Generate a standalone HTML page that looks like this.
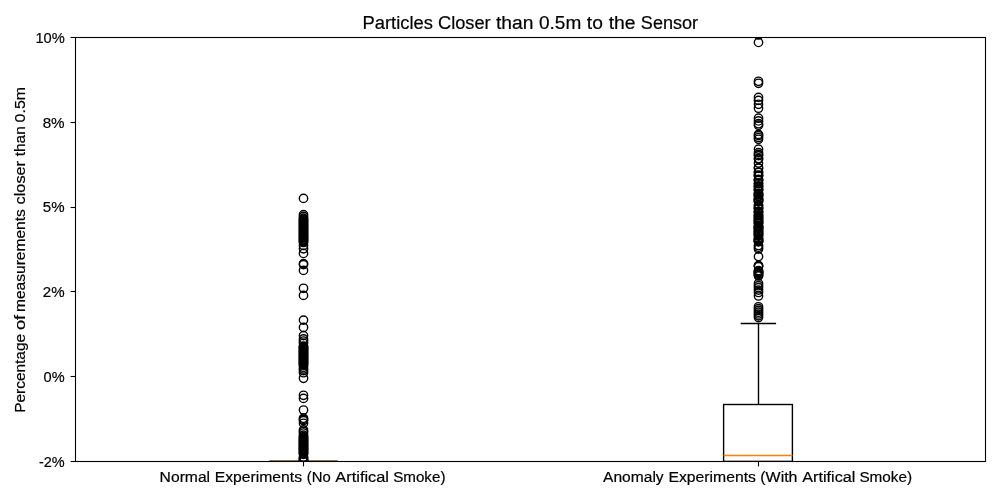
<!DOCTYPE html>
<html><head><meta charset="utf-8"><title>Particles Closer than 0.5m to the Sensor</title>
<style>
html,body{margin:0;padding:0;background:#fff;}
body{width:1000px;height:500px;overflow:hidden;position:relative;font-family:"Liberation Sans",sans-serif;}
svg{position:absolute;left:0;top:0;display:block;}
text{font-family:"Liberation Sans",sans-serif;fill:#000;stroke:#000;stroke-width:0.2px;stroke-linejoin:round;}
</style></head><body>
<svg width="1000" height="500" viewBox="0 0 1000 500">
<defs><clipPath id="ax"><rect x="75.6" y="37.4" width="909.8" height="424"/></clipPath></defs>
<rect x="0" y="0" width="1000" height="500" fill="#fff"/>
<g clip-path="url(#ax)" fill="none" stroke="#000" stroke-width="1.39">
<!-- box 1 (collapsed) -->
<line x1="269.4" x2="337.6" y1="461.2" y2="461.2"/>
<line x1="269.4" x2="337.6" y1="460.55" y2="460.55" stroke="#b0703f" stroke-width="0.9" opacity="0.55"/>
<!-- box 2 -->
<rect x="723.6" y="404.5" width="68.8" height="56.9"/>
<line x1="758.5" x2="758.5" y1="404.5" y2="323.5"/>
<line x1="740.7" x2="776.1" y1="323.5" y2="323.5"/>
<line x1="723.6" x2="792.4" y1="455.5" y2="455.5" stroke="#ff7f0e"/>
<!-- fliers -->
<circle cx="303.5" cy="198.4" r="4.17"/>
<circle cx="303.5" cy="214.6" r="4.17"/>
<circle cx="303.5" cy="216.4" r="4.17"/>
<circle cx="303.5" cy="218.2" r="4.17"/>
<circle cx="303.5" cy="219.1" r="4.17"/>
<circle cx="303.5" cy="220.0" r="4.17"/>
<circle cx="303.5" cy="220.9" r="4.17"/>
<circle cx="303.5" cy="221.8" r="4.17"/>
<circle cx="303.5" cy="222.7" r="4.17"/>
<circle cx="303.5" cy="223.6" r="4.17"/>
<circle cx="303.5" cy="224.5" r="4.17"/>
<circle cx="303.5" cy="225.4" r="4.17"/>
<circle cx="303.5" cy="226.3" r="4.17"/>
<circle cx="303.5" cy="227.2" r="4.17"/>
<circle cx="303.5" cy="228.1" r="4.17"/>
<circle cx="303.5" cy="229.0" r="4.17"/>
<circle cx="303.5" cy="229.9" r="4.17"/>
<circle cx="303.5" cy="230.8" r="4.17"/>
<circle cx="303.5" cy="231.7" r="4.17"/>
<circle cx="303.5" cy="232.6" r="4.17"/>
<circle cx="303.5" cy="233.5" r="4.17"/>
<circle cx="303.5" cy="234.4" r="4.17"/>
<circle cx="303.5" cy="235.3" r="4.17"/>
<circle cx="303.5" cy="236.2" r="4.17"/>
<circle cx="303.5" cy="237.1" r="4.17"/>
<circle cx="303.5" cy="238.0" r="4.17"/>
<circle cx="303.5" cy="238.9" r="4.17"/>
<circle cx="303.5" cy="239.8" r="4.17"/>
<circle cx="303.5" cy="240.7" r="4.17"/>
<circle cx="303.5" cy="241.6" r="4.17"/>
<circle cx="303.5" cy="242.5" r="4.17"/>
<circle cx="303.5" cy="245.4" r="4.17"/>
<circle cx="303.5" cy="248.8" r="4.17"/>
<circle cx="303.5" cy="253.4" r="4.17"/>
<circle cx="303.5" cy="263.6" r="4.17"/>
<circle cx="303.5" cy="264.6" r="4.17"/>
<circle cx="303.5" cy="270.4" r="4.17"/>
<circle cx="303.5" cy="288.3" r="4.17"/>
<circle cx="303.5" cy="295.4" r="4.17"/>
<circle cx="303.5" cy="320.1" r="4.17"/>
<circle cx="303.5" cy="327.4" r="4.17"/>
<circle cx="303.5" cy="335.6" r="4.17"/>
<circle cx="303.5" cy="338.9" r="4.17"/>
<circle cx="303.5" cy="341.0" r="4.17"/>
<circle cx="303.5" cy="343.1" r="4.17"/>
<circle cx="303.5" cy="346.1" r="4.17"/>
<circle cx="303.5" cy="346.8" r="4.17"/>
<circle cx="303.5" cy="347.6" r="4.17"/>
<circle cx="303.5" cy="348.4" r="4.17"/>
<circle cx="303.5" cy="349.2" r="4.17"/>
<circle cx="303.5" cy="350.0" r="4.17"/>
<circle cx="303.5" cy="350.8" r="4.17"/>
<circle cx="303.5" cy="351.6" r="4.17"/>
<circle cx="303.5" cy="352.4" r="4.17"/>
<circle cx="303.5" cy="353.2" r="4.17"/>
<circle cx="303.5" cy="354.0" r="4.17"/>
<circle cx="303.5" cy="354.8" r="4.17"/>
<circle cx="303.5" cy="355.6" r="4.17"/>
<circle cx="303.5" cy="356.4" r="4.17"/>
<circle cx="303.5" cy="357.2" r="4.17"/>
<circle cx="303.5" cy="358.0" r="4.17"/>
<circle cx="303.5" cy="358.8" r="4.17"/>
<circle cx="303.5" cy="359.6" r="4.17"/>
<circle cx="303.5" cy="360.4" r="4.17"/>
<circle cx="303.5" cy="361.2" r="4.17"/>
<circle cx="303.5" cy="362.0" r="4.17"/>
<circle cx="303.5" cy="362.8" r="4.17"/>
<circle cx="303.5" cy="363.6" r="4.17"/>
<circle cx="303.5" cy="364.4" r="4.17"/>
<circle cx="303.5" cy="365.3" r="4.17"/>
<circle cx="303.5" cy="367.3" r="4.17"/>
<circle cx="303.5" cy="369.0" r="4.17"/>
<circle cx="303.5" cy="370.6" r="4.17"/>
<circle cx="303.5" cy="372.7" r="4.17"/>
<circle cx="303.5" cy="378.3" r="4.17"/>
<circle cx="303.5" cy="395.3" r="4.17"/>
<circle cx="303.5" cy="398.4" r="4.17"/>
<circle cx="303.5" cy="410.0" r="4.17"/>
<circle cx="303.5" cy="418.2" r="4.17"/>
<circle cx="303.5" cy="419.4" r="4.17"/>
<circle cx="303.5" cy="420.6" r="4.17"/>
<circle cx="303.5" cy="423.3" r="4.17"/>
<circle cx="303.5" cy="429.9" r="4.17"/>
<circle cx="303.5" cy="431.5" r="4.17"/>
<circle cx="303.5" cy="433.0" r="4.17"/>
<circle cx="303.5" cy="435.2" r="4.17"/>
<circle cx="303.5" cy="436.5" r="4.17"/>
<circle cx="303.5" cy="437.5" r="4.17"/>
<circle cx="303.5" cy="438.3" r="4.17"/>
<circle cx="303.5" cy="439.1" r="4.17"/>
<circle cx="303.5" cy="439.9" r="4.17"/>
<circle cx="303.5" cy="440.7" r="4.17"/>
<circle cx="303.5" cy="441.5" r="4.17"/>
<circle cx="303.5" cy="442.3" r="4.17"/>
<circle cx="303.5" cy="443.1" r="4.17"/>
<circle cx="303.5" cy="443.9" r="4.17"/>
<circle cx="303.5" cy="444.7" r="4.17"/>
<circle cx="303.5" cy="445.5" r="4.17"/>
<circle cx="303.5" cy="446.3" r="4.17"/>
<circle cx="303.5" cy="447.1" r="4.17"/>
<circle cx="303.5" cy="447.9" r="4.17"/>
<circle cx="303.5" cy="448.7" r="4.17"/>
<circle cx="303.5" cy="449.5" r="4.17"/>
<circle cx="303.5" cy="450.3" r="4.17"/>
<circle cx="303.5" cy="451.1" r="4.17"/>
<circle cx="303.5" cy="451.9" r="4.17"/>
<circle cx="303.5" cy="452.7" r="4.17"/>
<circle cx="303.5" cy="453.5" r="4.17"/>
<circle cx="303.5" cy="454.3" r="4.17"/>
<circle cx="303.5" cy="457.2" r="4.17"/>
<circle cx="303.5" cy="458.0" r="4.17"/>
<circle cx="303.5" cy="459.0" r="4.17"/>
<circle cx="303.5" cy="460.0" r="4.17"/>
<circle cx="303.5" cy="460.8" r="4.17"/>
<circle cx="303.5" cy="461.4" r="4.17"/>
<circle cx="758.5" cy="35.0" r="4.17"/>
<circle cx="758.5" cy="42.4" r="4.17"/>
<circle cx="758.5" cy="81.3" r="4.17"/>
<circle cx="758.5" cy="83.3" r="4.17"/>
<circle cx="758.5" cy="97.4" r="4.17"/>
<circle cx="758.5" cy="100.4" r="4.17"/>
<circle cx="758.5" cy="104.3" r="4.17"/>
<circle cx="758.5" cy="108.2" r="4.17"/>
<circle cx="758.5" cy="118.2" r="4.17"/>
<circle cx="758.5" cy="120.9" r="4.17"/>
<circle cx="758.5" cy="123.7" r="4.17"/>
<circle cx="758.5" cy="125.2" r="4.17"/>
<circle cx="758.5" cy="134.4" r="4.17"/>
<circle cx="758.5" cy="135.6" r="4.17"/>
<circle cx="758.5" cy="137.5" r="4.17"/>
<circle cx="758.5" cy="139.3" r="4.17"/>
<circle cx="758.5" cy="149.2" r="4.17"/>
<circle cx="758.5" cy="152.6" r="4.17"/>
<circle cx="758.5" cy="154.4" r="4.17"/>
<circle cx="758.5" cy="155.6" r="4.17"/>
<circle cx="758.5" cy="158.5" r="4.17"/>
<circle cx="758.5" cy="159.1" r="4.17"/>
<circle cx="758.5" cy="163.1" r="4.17"/>
<circle cx="758.5" cy="167.8" r="4.17"/>
<circle cx="758.5" cy="168.3" r="4.17"/>
<circle cx="758.5" cy="172.0" r="4.17"/>
<circle cx="758.5" cy="172.5" r="4.17"/>
<circle cx="758.5" cy="175.0" r="4.17"/>
<circle cx="758.5" cy="175.6" r="4.17"/>
<circle cx="758.5" cy="176.1" r="4.17"/>
<circle cx="758.5" cy="179.4" r="4.17"/>
<circle cx="758.5" cy="180.0" r="4.17"/>
<circle cx="758.5" cy="180.5" r="4.17"/>
<circle cx="758.5" cy="183.2" r="4.17"/>
<circle cx="758.5" cy="183.7" r="4.17"/>
<circle cx="758.5" cy="185.8" r="4.17"/>
<circle cx="758.5" cy="186.4" r="4.17"/>
<circle cx="758.5" cy="186.9" r="4.17"/>
<circle cx="758.5" cy="189.2" r="4.17"/>
<circle cx="758.5" cy="189.7" r="4.17"/>
<circle cx="758.5" cy="190.3" r="4.17"/>
<circle cx="758.5" cy="193.3" r="4.17"/>
<circle cx="758.5" cy="193.8" r="4.17"/>
<circle cx="758.5" cy="194.4" r="4.17"/>
<circle cx="758.5" cy="194.9" r="4.17"/>
<circle cx="758.5" cy="196.0" r="4.17"/>
<circle cx="758.5" cy="196.6" r="4.17"/>
<circle cx="758.5" cy="198.7" r="4.17"/>
<circle cx="758.5" cy="199.2" r="4.17"/>
<circle cx="758.5" cy="199.8" r="4.17"/>
<circle cx="758.5" cy="200.3" r="4.17"/>
<circle cx="758.5" cy="201.3" r="4.17"/>
<circle cx="758.5" cy="201.8" r="4.17"/>
<circle cx="758.5" cy="205.1" r="4.17"/>
<circle cx="758.5" cy="205.7" r="4.17"/>
<circle cx="758.5" cy="207.7" r="4.17"/>
<circle cx="758.5" cy="208.3" r="4.17"/>
<circle cx="758.5" cy="208.8" r="4.17"/>
<circle cx="758.5" cy="211.4" r="4.17"/>
<circle cx="758.5" cy="211.9" r="4.17"/>
<circle cx="758.5" cy="212.5" r="4.17"/>
<circle cx="758.5" cy="214.8" r="4.17"/>
<circle cx="758.5" cy="215.4" r="4.17"/>
<circle cx="758.5" cy="215.9" r="4.17"/>
<circle cx="758.5" cy="217.4" r="4.17"/>
<circle cx="758.5" cy="217.9" r="4.17"/>
<circle cx="758.5" cy="218.5" r="4.17"/>
<circle cx="758.5" cy="220.2" r="4.17"/>
<circle cx="758.5" cy="220.8" r="4.17"/>
<circle cx="758.5" cy="221.3" r="4.17"/>
<circle cx="758.5" cy="222.5" r="4.17"/>
<circle cx="758.5" cy="223.0" r="4.17"/>
<circle cx="758.5" cy="223.6" r="4.17"/>
<circle cx="758.5" cy="225.8" r="4.17"/>
<circle cx="758.5" cy="226.4" r="4.17"/>
<circle cx="758.5" cy="226.9" r="4.17"/>
<circle cx="758.5" cy="227.5" r="4.17"/>
<circle cx="758.5" cy="228.2" r="4.17"/>
<circle cx="758.5" cy="228.8" r="4.17"/>
<circle cx="758.5" cy="229.3" r="4.17"/>
<circle cx="758.5" cy="230.8" r="4.17"/>
<circle cx="758.5" cy="231.4" r="4.17"/>
<circle cx="758.5" cy="231.9" r="4.17"/>
<circle cx="758.5" cy="233.2" r="4.17"/>
<circle cx="758.5" cy="233.7" r="4.17"/>
<circle cx="758.5" cy="234.3" r="4.17"/>
<circle cx="758.5" cy="235.6" r="4.17"/>
<circle cx="758.5" cy="236.2" r="4.17"/>
<circle cx="758.5" cy="238.5" r="4.17"/>
<circle cx="758.5" cy="239.0" r="4.17"/>
<circle cx="758.5" cy="239.6" r="4.17"/>
<circle cx="758.5" cy="240.6" r="4.17"/>
<circle cx="758.5" cy="241.1" r="4.17"/>
<circle cx="758.5" cy="241.7" r="4.17"/>
<circle cx="758.5" cy="241.6" r="4.17"/>
<circle cx="758.5" cy="245.5" r="4.17"/>
<circle cx="758.5" cy="247.2" r="4.17"/>
<circle cx="758.5" cy="249.0" r="4.17"/>
<circle cx="758.5" cy="256.6" r="4.17"/>
<circle cx="758.5" cy="265.5" r="4.17"/>
<circle cx="758.5" cy="266.0" r="4.17"/>
<circle cx="758.5" cy="266.6" r="4.17"/>
<circle cx="758.5" cy="270.6" r="4.17"/>
<circle cx="758.5" cy="271.2" r="4.17"/>
<circle cx="758.5" cy="271.8" r="4.17"/>
<circle cx="758.5" cy="272.4" r="4.17"/>
<circle cx="758.5" cy="273.0" r="4.17"/>
<circle cx="758.5" cy="273.6" r="4.17"/>
<circle cx="758.5" cy="274.4" r="4.17"/>
<circle cx="758.5" cy="275.4" r="4.17"/>
<circle cx="758.5" cy="276.0" r="4.17"/>
<circle cx="758.5" cy="283.5" r="4.17"/>
<circle cx="758.5" cy="285.7" r="4.17"/>
<circle cx="758.5" cy="287.7" r="4.17"/>
<circle cx="758.5" cy="290.1" r="4.17"/>
<circle cx="758.5" cy="292.5" r="4.17"/>
<circle cx="758.5" cy="296.0" r="4.17"/>
<circle cx="758.5" cy="306.8" r="4.17"/>
<circle cx="758.5" cy="308.6" r="4.17"/>
<circle cx="758.5" cy="310.4" r="4.17"/>
<circle cx="758.5" cy="312.2" r="4.17"/>
<circle cx="758.5" cy="314.0" r="4.17"/>
<circle cx="758.5" cy="315.8" r="4.17"/>
<circle cx="758.5" cy="317.6" r="4.17"/>
</g>
<g stroke="#000" stroke-width="1.1" fill="none">
<rect x="75.5" y="37.5" width="910" height="424"/>
<line x1="70.6" x2="75.5" y1="37.5" y2="37.5"/>
<line x1="70.6" x2="75.5" y1="122.5" y2="122.5"/>
<line x1="70.6" x2="75.5" y1="207.5" y2="207.5"/>
<line x1="70.6" x2="75.5" y1="291.5" y2="291.5"/>
<line x1="70.6" x2="75.5" y1="376.5" y2="376.5"/>
<line x1="70.6" x2="75.5" y1="461.5" y2="461.5"/>
<line x1="303.5" x2="303.5" y1="461.5" y2="466.4"/>
<line x1="758.5" x2="758.5" y1="461.5" y2="466.4"/>
</g>
</svg>
<svg id="txtlayer" style="will-change:transform" width="1000" height="500" viewBox="0 0 1000 500">
<g id="txt">
<text x="362.54" y="28.6" font-size="17.6" textLength="70.43" lengthAdjust="spacingAndGlyphs">Particles</text>
<text x="438.03" y="28.6" font-size="17.6" textLength="52.60" lengthAdjust="spacingAndGlyphs">Closer</text>
<text x="496.00" y="28.6" font-size="17.6" textLength="37.51" lengthAdjust="spacingAndGlyphs">than</text>
<text x="538.99" y="28.6" font-size="17.6" textLength="42.27" lengthAdjust="spacingAndGlyphs">0.5m</text>
<text x="586.86" y="28.6" font-size="17.6" textLength="16.06" lengthAdjust="spacingAndGlyphs">to</text>
<text x="608.67" y="28.6" font-size="17.6" textLength="26.96" lengthAdjust="spacingAndGlyphs">the</text>
<text x="640.87" y="28.6" font-size="17.6" textLength="57.24" lengthAdjust="spacingAndGlyphs">Sensor</text>
<text x="159.64" y="481.8" font-size="14.7" textLength="50.45" lengthAdjust="spacingAndGlyphs">Normal</text>
<text x="214.76" y="481.8" font-size="14.7" textLength="87.33" lengthAdjust="spacingAndGlyphs">Experiments</text>
<text x="306.74" y="481.8" font-size="14.7" textLength="23.95" lengthAdjust="spacingAndGlyphs">(No</text>
<text x="335.36" y="481.8" font-size="14.7" textLength="53.61" lengthAdjust="spacingAndGlyphs">Artifical</text>
<text x="393.15" y="481.8" font-size="14.7" textLength="52.30" lengthAdjust="spacingAndGlyphs">Smoke)</text>
<text x="602.99" y="481.8" font-size="14.7" textLength="60.67" lengthAdjust="spacingAndGlyphs">Anomaly</text>
<text x="668.41" y="481.8" font-size="14.7" textLength="87.55" lengthAdjust="spacingAndGlyphs">Experiments</text>
<text x="760.28" y="481.8" font-size="14.7" textLength="37.25" lengthAdjust="spacingAndGlyphs">(With</text>
<text x="802.29" y="481.8" font-size="14.7" textLength="53.07" lengthAdjust="spacingAndGlyphs">Artifical</text>
<text x="859.40" y="481.8" font-size="14.7" textLength="52.74" lengthAdjust="spacingAndGlyphs">Smoke)</text>
<text transform="translate(25.3 412.82) rotate(-90)" font-size="14.7" textLength="78.89" lengthAdjust="spacingAndGlyphs">Percentage</text>
<text transform="translate(25.3 330.10) rotate(-90)" font-size="14.7" textLength="15.27" lengthAdjust="spacingAndGlyphs">of</text>
<text transform="translate(25.3 312.06) rotate(-90)" font-size="14.7" textLength="102.93" lengthAdjust="spacingAndGlyphs">measurements</text>
<text transform="translate(25.3 204.39) rotate(-90)" font-size="14.7" textLength="43.40" lengthAdjust="spacingAndGlyphs">closer</text>
<text transform="translate(25.3 156.27) rotate(-90)" font-size="14.7" textLength="30.05" lengthAdjust="spacingAndGlyphs">than</text>
<text transform="translate(25.3 122.41) rotate(-90)" font-size="14.7" textLength="35.45" lengthAdjust="spacingAndGlyphs">0.5m</text>
<text x="35.44" y="43.0" font-size="14.7" textLength="29.36" lengthAdjust="spacingAndGlyphs">10%</text>
<text x="42.67" y="127.6" font-size="14.7" textLength="21.95" lengthAdjust="spacingAndGlyphs">8%</text>
<text x="42.77" y="212.2" font-size="14.7" textLength="21.75" lengthAdjust="spacingAndGlyphs">5%</text>
<text x="42.83" y="297.0" font-size="14.7" textLength="21.79" lengthAdjust="spacingAndGlyphs">2%</text>
<text x="43.61" y="381.8" font-size="14.7" textLength="21.01" lengthAdjust="spacingAndGlyphs">0%</text>
<text x="38.97" y="466.6" font-size="14.7" textLength="25.77" lengthAdjust="spacingAndGlyphs">-2%</text>
</g>
</svg>
</body></html>
